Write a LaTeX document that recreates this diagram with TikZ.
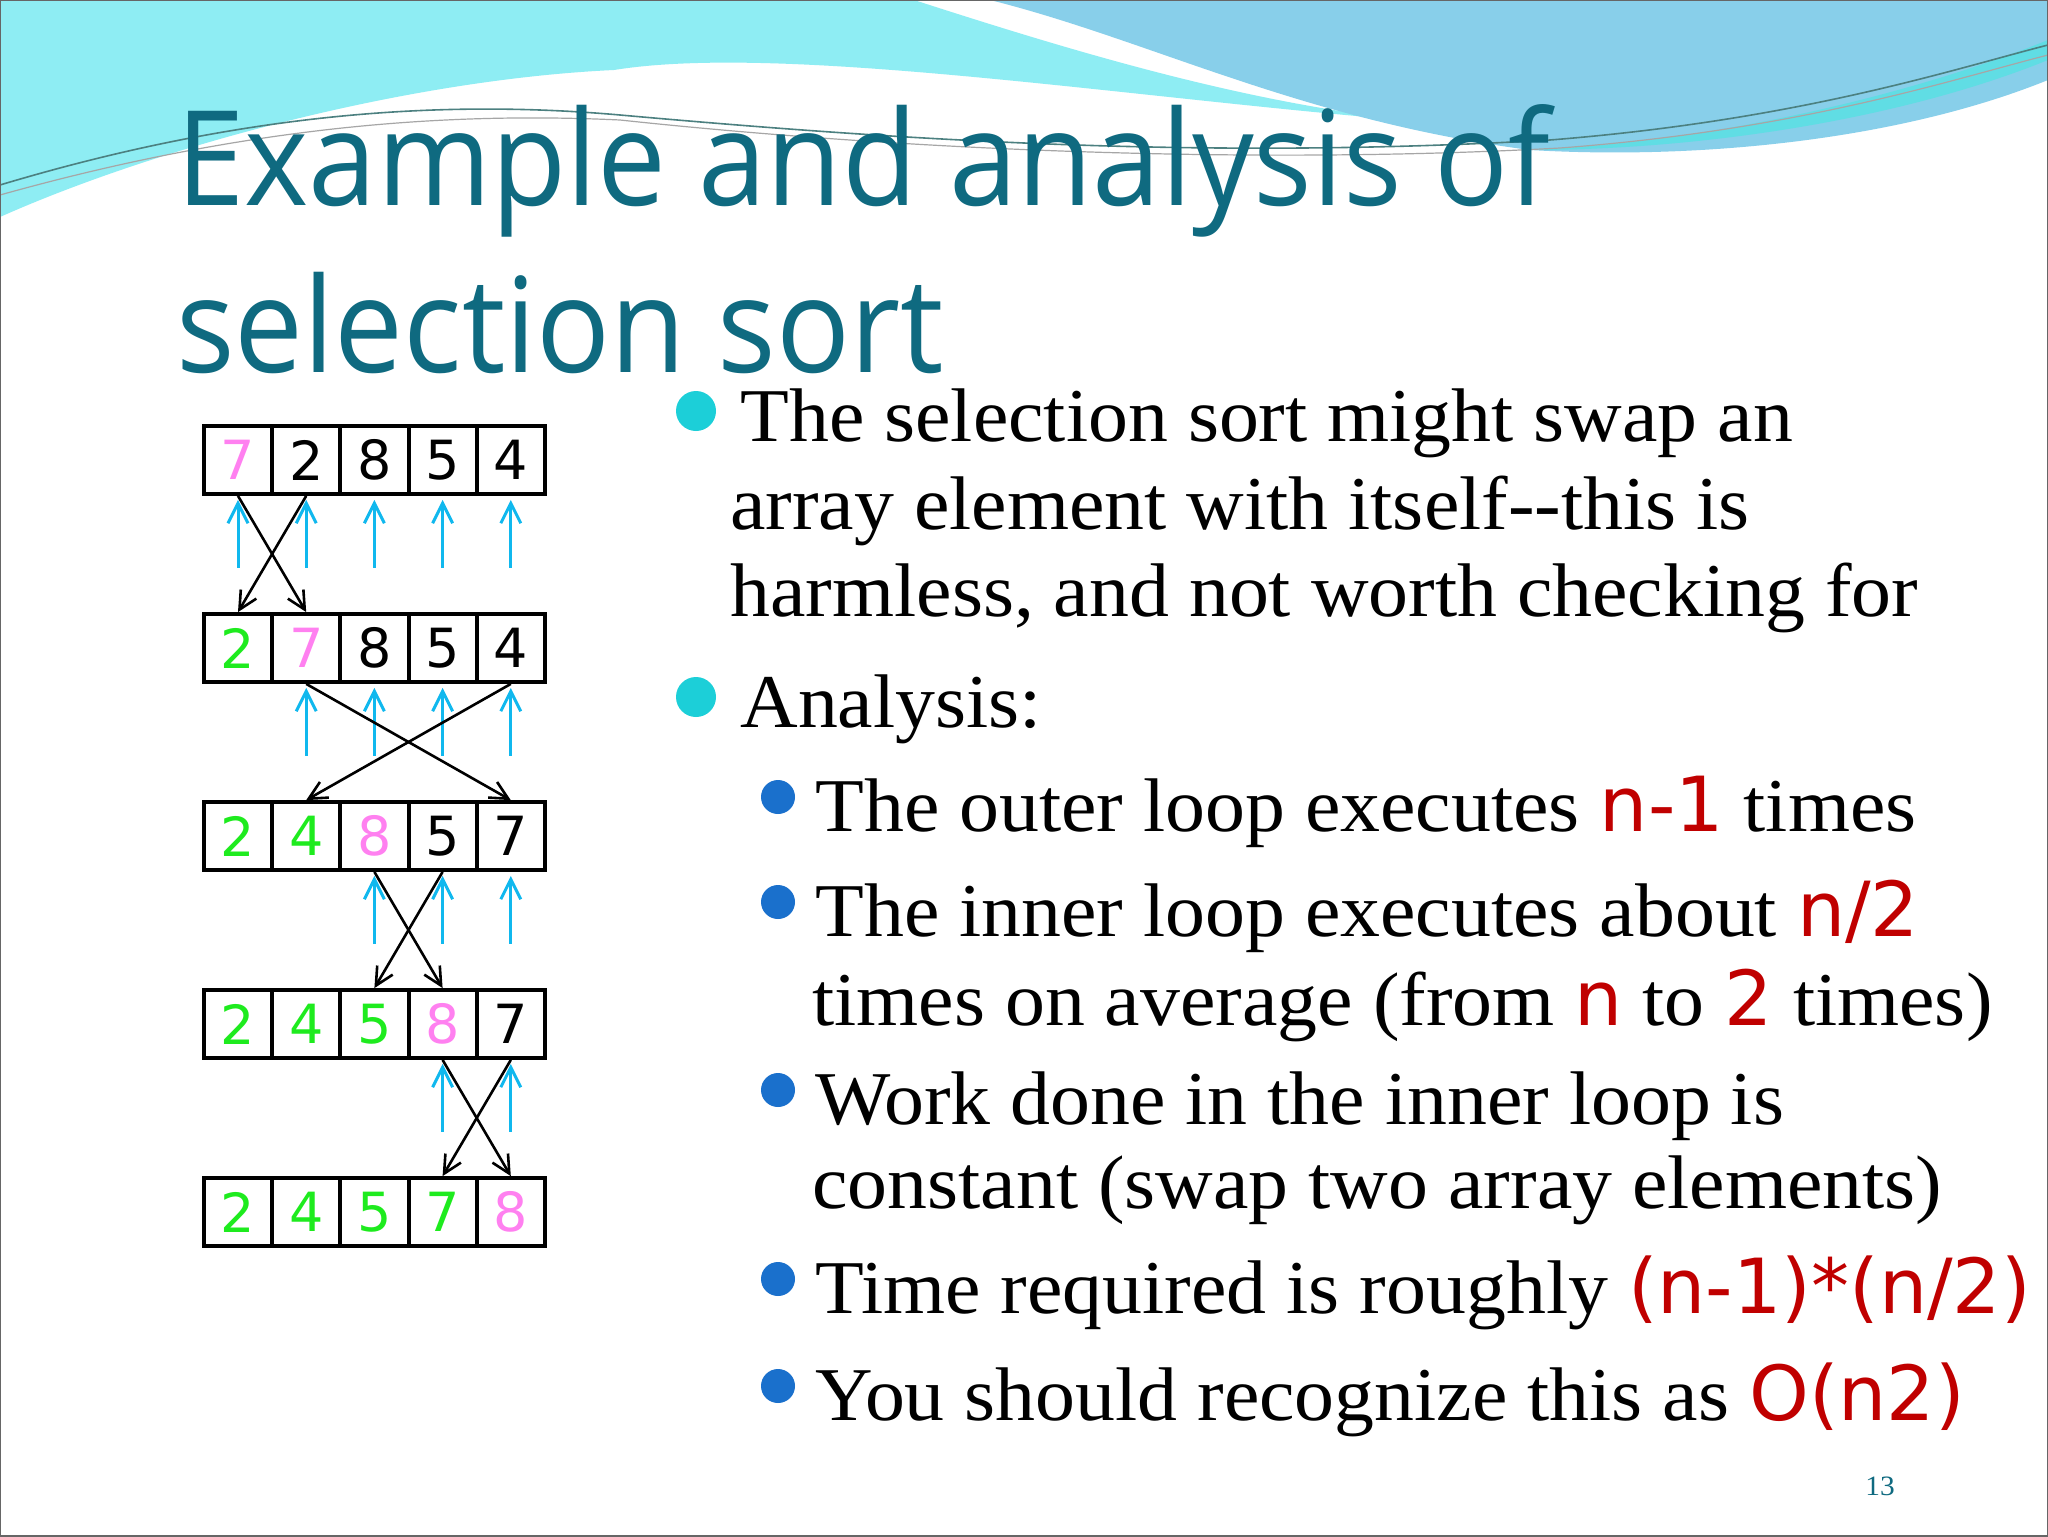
\documentclass[tikz,border=0pt]{standalone}
\usepackage{fontspec}
\setmainfont[FakeStretch=1.05]{Liberation Serif}
\newfontfamily\titlefont[FakeStretch=0.93]{Open Sans}
\newfontfamily\digfont{DejaVu Sans}
\definecolor{titlec}{HTML}{0F6A80}
\definecolor{redc}{HTML}{C00000}
\definecolor{pinkc}{HTML}{FF80F0}
\definecolor{greenc}{HTML}{1EEB1E}
\definecolor{arrc}{HTML}{10B8EE}
\definecolor{cyanbg}{HTML}{8EEDF3}
\definecolor{bluebg}{HTML}{88CFEA}
\definecolor{bul1}{HTML}{1CCFD8}
\definecolor{bul2}{HTML}{1A70CC}
\newcommand{\rd}[1]{{\digfont\color{redc}#1}}
\tikzset{
  cell/.style={draw=black,line width=1.9pt,minimum width=34pt,minimum height=34pt,inner sep=0pt,font=\digfont\fontsize{27}{27}\selectfont},
  upar/.style={draw=arrc,line width=1.5pt,-{Straight Barb[length=10pt,width=10pt]}},
  swp/.style={draw=black,line width=1.3pt,-{Straight Barb[length=9pt,width=9pt]}},
  body/.style={anchor=base west,inner sep=0pt,font=\fontsize{38}{44}\selectfont},
}
\usetikzlibrary{arrows.meta}
\begin{document}
\begin{tikzpicture}[x=0.5pt,y=-0.5pt]
\useasboundingbox (0,0) rectangle (2048,1536);
\fill[white] (0,0) rectangle (2048,1536);
% background waves
\fill[cyanbg] (0,0) -- (914,0) .. controls (1100,60) and (1300,120) .. (1500,127)
  .. controls (1200,110) and (800,40) .. (614,70) .. controls (400,80) and (150,150) .. (0,217) -- cycle;
\fill[bluebg] (990,0) -- (2048,0) -- (2048,80) .. controls (1900,140) and (1700,160) .. (1530,150)
  .. controls (1300,120) and (1150,40) .. (990,0) -- cycle;
\fill[bul1!70] (1530,150) .. controls (1750,140) and (1950,80) .. (2048,40) -- (2048,60) .. controls (1900,120) and (1700,150) .. (1530,150) -- cycle;
\draw[gray!60!teal,line width=0.8pt] (0,185) .. controls (250,110) and (450,100) .. (620,115) .. controls (900,140) and (1200,160) .. (1550,140) .. controls (1800,120) and (1950,70) .. (2048,45);
\draw[gray!70,line width=0.6pt] (0,195) .. controls (250,125) and (450,112) .. (620,120) .. controls (900,150) and (1250,165) .. (1560,148) .. controls (1800,130) and (1950,80) .. (2048,55);
\draw[gray!80!black,line width=1pt] (0,0) rectangle (2048,1536);
% title
\node[anchor=base west,inner sep=0pt,text=titlec,font=\titlefont\fontsize{66}{66}\selectfont] (t1) at (176,205) {Example and analysis of};
\node[anchor=base west,inner sep=0pt,text=titlec,font=\titlefont\fontsize{66}{66}\selectfont] (t2) at (176,372) {selection sort};
% arrays
\foreach \r/\vals in {0/{7,2,8,5,4},1/{2,7,8,5,4},2/{2,4,8,5,7},3/{2,4,5,8,7},4/{2,4,5,7,8}}{
  \foreach \v [count=\i from 0] in \vals {
    \pgfmathsetmacro{\cx}{238+68.2*\i}
    \pgfmathsetmacro{\cy}{460+188*\r}
    \pgfmathtruncatemacro{\g}{\i<\r?1:0}
    \pgfmathtruncatemacro{\p}{\i==\r?1:0}
    \ifnum\g=1 \def\cc{greenc}\else\ifnum\p=1 \def\cc{pinkc}\else\def\cc{black}\fi\fi
    \node[cell,text=\cc] (c\r\i) at (\cx,\cy) {\v};
  }
}
% blue arrows
\foreach \r in {0,1,2,3}{
  \foreach \i in {\r,...,4}{
    \draw[upar] ([yshift=-36pt]c\r\i.south) -- ([yshift=-2pt]c\r\i.south);
  }
}
% swaps
\foreach \r/\a/\b in {0/0/1,1/1/4,2/2/3,3/3/4}{
  \pgfmathtruncatemacro{\n}{\r+1}
  \draw[swp] (c\r\a.south) -- (c\n\b.north);
  \draw[swp] (c\r\b.south) -- (c\n\a.north);
}
% bullets
\fill[bul1] (696,411) circle (10pt);
\fill[bul1] (696,697) circle (10pt);
\node[body] (l1) at (740,441) {The selection sort might swap an};
\node[body] (l2) at (730,529) {array element with itself-{}-this is};
\node[body] (l3) at (730,616) {harmless, and not worth checking for};
\node[body] (l4) at (740,727) {Analysis:};
\foreach \y in {831,936,1124,1313,1420}{\fill[bul2] (778,\y-34) circle (8.5pt);}
\node[body] (s1) at (815,831) {The outer loop executes \rd{n-1} times};
\node[body] (s2) at (815,936) {The inner loop executes about \rd{n/2}};
\node[body] (s2b) at (812,1025) {times on average (from \rd{n} to \rd{2} times)};
\node[body] (s3) at (815,1124) {Work done in the inner loop is};
\node[body] (s3b) at (812,1208) {constant (swap two array elements)};
\node[body] (s4) at (815,1313) {Time required is roughly \rd{(n-1)*(n/2)}};
\node[body] (s5) at (815,1420) {You should recognize this as \rd{O(n2)}};
\node[anchor=base,inner sep=0pt,text=titlec,font=\fontsize{14}{14}\selectfont] (pg) at (1880,1495) {13};
\end{tikzpicture}
\end{document}
